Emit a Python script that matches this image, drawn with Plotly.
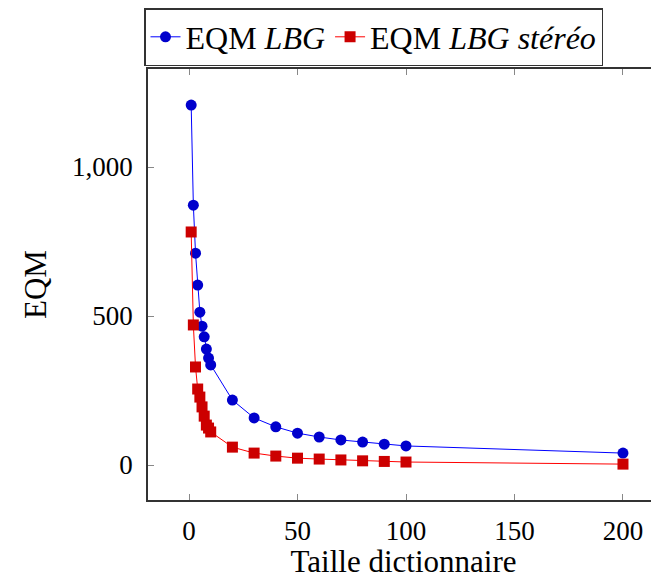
import plotly.graph_objects as go

dict_sizes = [1, 2, 3, 4, 5, 6, 7, 8, 9, 10, 20, 30, 40, 50, 60, 70, 80, 90, 100, 200]
eqm_lbg = [1208, 872, 711, 604, 513, 466, 430, 389, 359, 336, 218, 158, 128, 107, 94, 84, 77, 70, 64, 40]
eqm_lbg_stereo = [782, 470, 329, 255, 228, 195, 164, 134, 124, 111, 60, 40, 30, 23, 20, 17, 14, 12, 10, 3]

x_ticks = [0, 50, 100, 150, 200]
y_ticks = [0, 500, 1000]
y_tick_labels = ["0", "500", "1,000"]

font_family = "Liberation Serif"

# page has an 8px body margin; figure sized so it fits the 659x579 window
W, H = 651, 571

fig = go.Figure()
fig.add_trace(go.Scatter(
    x=dict_sizes, y=eqm_lbg, mode="lines+markers",
    name="EQM <i>LBG</i>",
    line=dict(color="#0000ff", width=1),
    marker=dict(symbol="circle", size=11, color="#0000cc"),
))
fig.add_trace(go.Scatter(
    x=dict_sizes, y=eqm_lbg_stereo, mode="lines+markers",
    name="EQM <i>LBG stéréo</i>",
    line=dict(color="#ff0000", width=1),
    marker=dict(symbol="square", size=11, color="#cc0000"),
))

fig.update_layout(
    width=W, height=H,
    paper_bgcolor="white", plot_bgcolor="white",
    margin=dict(l=140, r=0, t=61, b=79, autoexpand=False),
    font=dict(family=font_family, size=28, color="black"),
    showlegend=True,
    legend=dict(
        orientation="h", x=136 / W, xanchor="left", y=1.0, yanchor="top",
        yref="container", xref="container",
        bordercolor="#333333", borderwidth=1.5, bgcolor="white",
        font=dict(family=font_family, size=32, color="black"),
        tracegroupgap=0,
    ),
    xaxis=dict(
        range=[-18.9, 216.6], tickvals=x_ticks,
        ticks="inside", ticklen=6, tickcolor="#888888", tickwidth=1,
        showline=True, linecolor="#333333", linewidth=1.5, mirror="allticks",
        showgrid=False, zeroline=False,
        ticklabelstandoff=6,
        title=dict(text="Taille dictionnaire", standoff=10,
                   font=dict(family=font_family, size=31, color="black")),
        tickfont=dict(family=font_family, size=27, color="black"),
    ),
    yaxis=dict(
        range=[-117.4, 1328.9], tickvals=y_ticks, ticktext=y_tick_labels,
        ticks="inside", ticklen=6, tickcolor="#888888", tickwidth=1,
        showline=True, linecolor="#333333", linewidth=1.5, mirror="allticks",
        showgrid=False, zeroline=False,
        ticklabelstandoff=8,
        title=dict(text="EQM", standoff=16,
                   font=dict(family=font_family, size=31, color="black")),
        tickfont=dict(family=font_family, size=27, color="black"),
    ),
)

fig.write_html("out.html")
